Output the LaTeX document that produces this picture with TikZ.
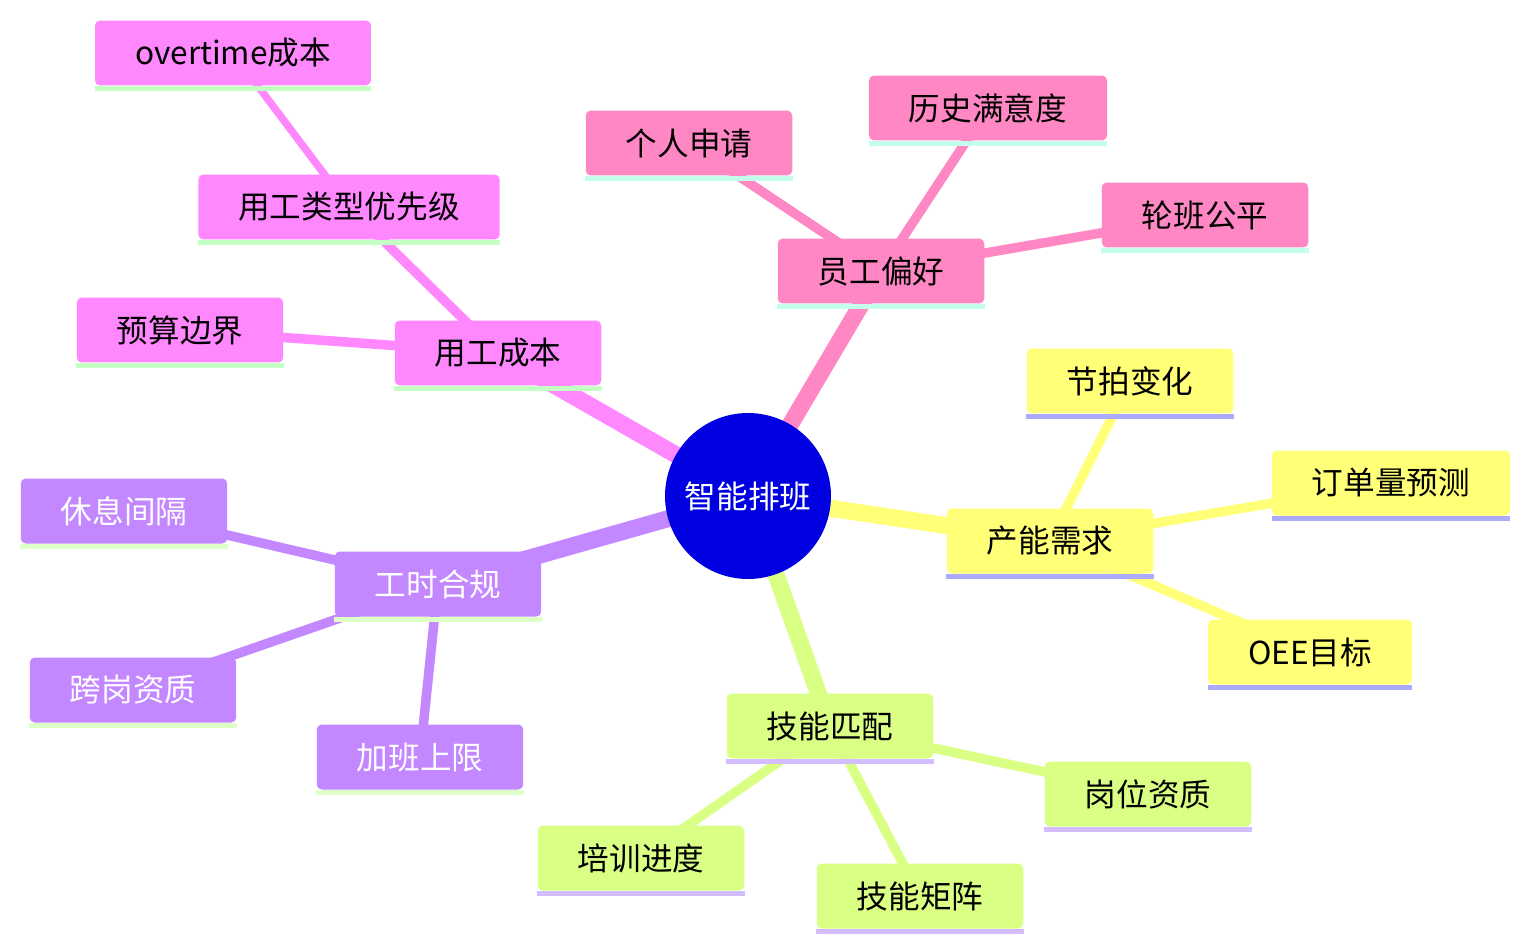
\documentclass[tikz,border=0pt]{standalone}
\usepackage{fontspec}
\setmainfont{Noto Sans CJK SC}
\usepackage{xcolor}
\usepackage{tikz}
\usetikzlibrary{backgrounds}

\definecolor{rootBlue}{HTML}{0000E0}
\definecolor{magC}{HTML}{FF88FF}
\definecolor{magU}{HTML}{C4FFC4}
\definecolor{pnkC}{HTML}{FF88C4}
\definecolor{pnkU}{HTML}{C4FFEC}
\definecolor{yelC}{HTML}{FFFF78}
\definecolor{yelU}{HTML}{AAAAFF}
\definecolor{limC}{HTML}{DAFF85}
\definecolor{limU}{HTML}{D3BCFF}
\definecolor{purC}{HTML}{C387FF}
\definecolor{purU}{HTML}{DEFFC6}

\begin{document}
\begin{tikzpicture}[
  x=0.02cm, y=-0.02cm,
  topic/.style 2 args={fill=#1, rounded corners=0.1cm, inner xsep=0.8cm,
                       minimum height=1.3cm, font=\fontsize{18}{22}\selectfont,
                       append after command={\pgfextra{\fill[#2] (\tikzlastnode.south west)
                         rectangle ([yshift=-0.1cm]\tikzlastnode.south east);}}},
  rootEdge/.style={draw=#1, line width=0.34cm},
  leafEdge/.style={draw=#1, line width=0.19cm},
  deepEdge/.style={draw=#1, line width=0.15cm}
]
  \useasboundingbox (0,0) rectangle (1531,950);

  \node[circle, fill=rootBlue, minimum size=3.32cm, inner sep=0pt, text=white,
        font=\fontsize{18}{22}\selectfont] (root) at (748,496) {智能排班};

  % 用工成本
  \node[topic={magC}{magU}] (cost) at (498,353) {用工成本};
  \node[topic={magC}{magU}] (costType) at (349,207) {用工类型优先级};
  \node[topic={magC}{magU}] (overtime) at (233,53) {overtime成本};
  \node[topic={magC}{magU}] (budget) at (180,330) {预算边界};

  % 员工偏好
  \node[topic={pnkC}{pnkU}] (pref) at (881,271) {员工偏好};
  \node[topic={pnkC}{pnkU}] (request) at (689,143) {个人申请};
  \node[topic={pnkC}{pnkU}] (satisf) at (988,108) {历史满意度};
  \node[topic={pnkC}{pnkU}] (fair) at (1205,215) {轮班公平};

  % 产能需求
  \node[topic={yelC}{yelU}] (capacity) at (1050,541) {产能需求};
  \node[topic={yelC}{yelU}] (takt) at (1130,381) {节拍变化};
  \node[topic={yelC}{yelU}] (forecast) at (1391,483) {订单量预测};
  \node[topic={yelC}{yelU}] (oee) at (1310,652) {OEE目标};

  % 技能匹配
  \node[topic={limC}{limU}] (skill) at (830,726) {技能匹配};
  \node[topic={limC}{limU}] (post) at (1148,794) {岗位资质};
  \node[topic={limC}{limU}] (matrix) at (920,896) {技能矩阵};
  \node[topic={limC}{limU}] (training) at (641,858) {培训进度};

  % 工时合规
  \node[topic={purC}{purU}, text=white] (hours) at (438,584) {工时合规};
  \node[topic={purC}{purU}, text=white] (rest) at (124,511) {休息间隔};
  \node[topic={purC}{purU}, text=white] (cross) at (133,690) {跨岗资质};
  \node[topic={purC}{purU}, text=white] (limit) at (420,757) {加班上限};

  \begin{scope}[on background layer]
    \draw[rootEdge=magC] (root.center) -- (cost.center);
    \draw[rootEdge=pnkC] (root.center) -- (pref.center);
    \draw[rootEdge=yelC] (root.center) -- (capacity.center);
    \draw[rootEdge=limC] (root.center) -- (skill.center);
    \draw[rootEdge=purC] (root.center) -- (hours.center);

    \draw[leafEdge=magC] (cost.center) -- (costType.center);
    \draw[leafEdge=magC] (cost.center) -- (budget.center);
    \draw[deepEdge=magC] (costType.center) -- (overtime.center);

    \draw[leafEdge=pnkC] (pref.center) -- (request.center);
    \draw[leafEdge=pnkC] (pref.center) -- (satisf.center);
    \draw[leafEdge=pnkC] (pref.center) -- (fair.center);

    \draw[leafEdge=yelC] (capacity.center) -- (takt.center);
    \draw[leafEdge=yelC] (capacity.center) -- (forecast.center);
    \draw[leafEdge=yelC] (capacity.center) -- (oee.center);

    \draw[leafEdge=limC] (skill.center) -- (post.center);
    \draw[leafEdge=limC] (skill.center) -- (matrix.center);
    \draw[leafEdge=limC] (skill.center) -- (training.center);

    \draw[leafEdge=purC] (hours.center) -- (rest.center);
    \draw[leafEdge=purC] (hours.center) -- (cross.center);
    \draw[leafEdge=purC] (hours.center) -- (limit.center);
  \end{scope}
\end{tikzpicture}
\end{document}
